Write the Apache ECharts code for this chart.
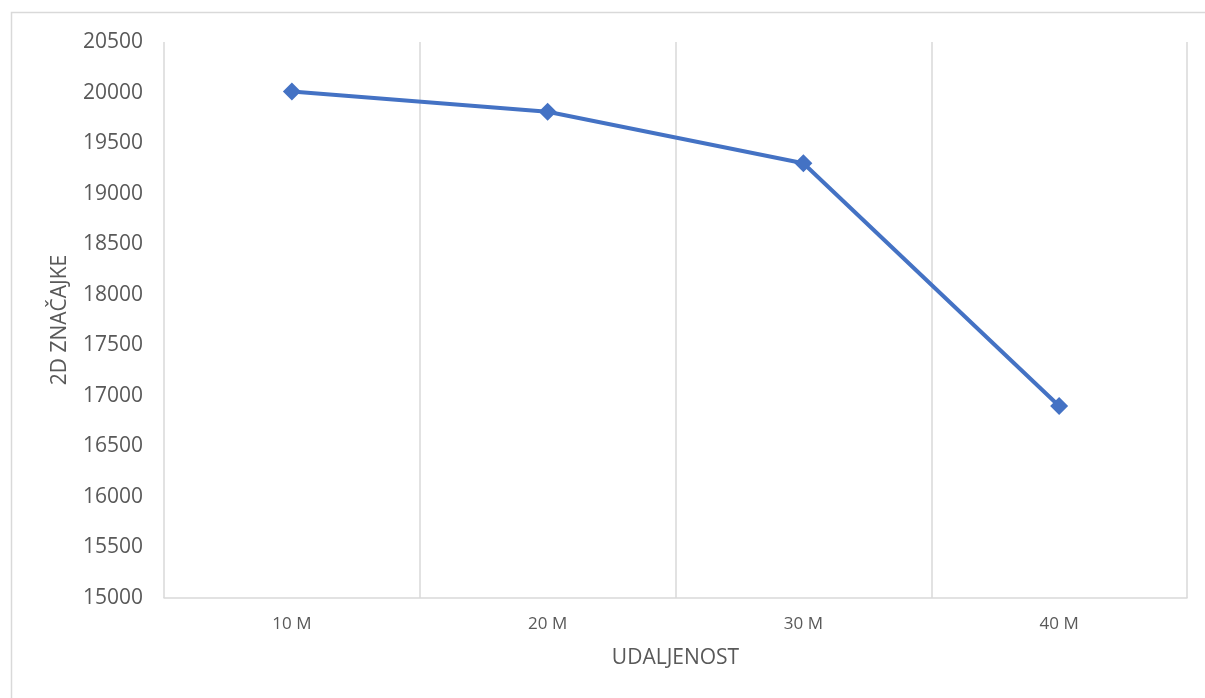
<!DOCTYPE html>
<html><head><meta charset="utf-8">
<script src="https://cdn.jsdelivr.net/npm/echarts@6/dist/echarts.min.js"></script>
<style>html,body{margin:0;padding:0;background:#fff}#c{width:1205px;height:698px}</style>
</head><body><div id="c"></div>
<script>
const categories = ['10 M', '20 M', '30 M', '40 M'];
const values = [20010, 19810, 19300, 16900];
const yMin = 15000, yMax = 20500, yStep = 500;
const xName = 'UDALJENOST';
const yName = '2D ZNAČAJKE';

const chart = echarts.init(document.getElementById('c'));
const font = 'Open Sans, Liberation Sans, sans-serif';
chart.setOption({
  animation: false,
  backgroundColor: '#fff',
  graphic: [{type: 'rect', shape: {x: 11.5, y: 12.5, width: 1210, height: 700}, style: {fill: 'none', stroke: '#d9d9d9', lineWidth: 1.5}, z: -1}],
  grid: {left: 164, right: 18, top: 42, bottom: 100},
  xAxis: {
    type: 'category', data: categories, boundaryGap: true,
    name: xName, nameLocation: 'middle', nameGap: 50,
    nameTextStyle: {color: '#595959', fontSize: 21, fontFamily: font},
    axisLine: {lineStyle: {color: '#d9d9d9', width: 1.5}},
    axisTick: {show: false},
    axisLabel: {color: '#595959', fontSize: 17, fontFamily: font, margin: 18},
    splitLine: {show: true, lineStyle: {color: '#d9d9d9', width: 1.5}}
  },
  yAxis: {
    type: 'value', min: yMin, max: yMax, interval: yStep,
    name: yName, nameLocation: 'middle', nameGap: 93,
    nameTextStyle: {color: '#595959', fontSize: 21, fontFamily: font},
    axisLine: {show: false}, axisTick: {show: false},
    axisLabel: {color: '#595959', fontSize: 21, fontFamily: font, margin: 21, formatter: v => String(v)},
    splitLine: {show: false}
  },
  series: [{
    type: 'line', data: values,
    lineStyle: {color: '#4472C4', width: 4},
    itemStyle: {color: '#4472C4'},
    symbol: 'diamond', symbolSize: 18
  }]
});
</script></body></html>
